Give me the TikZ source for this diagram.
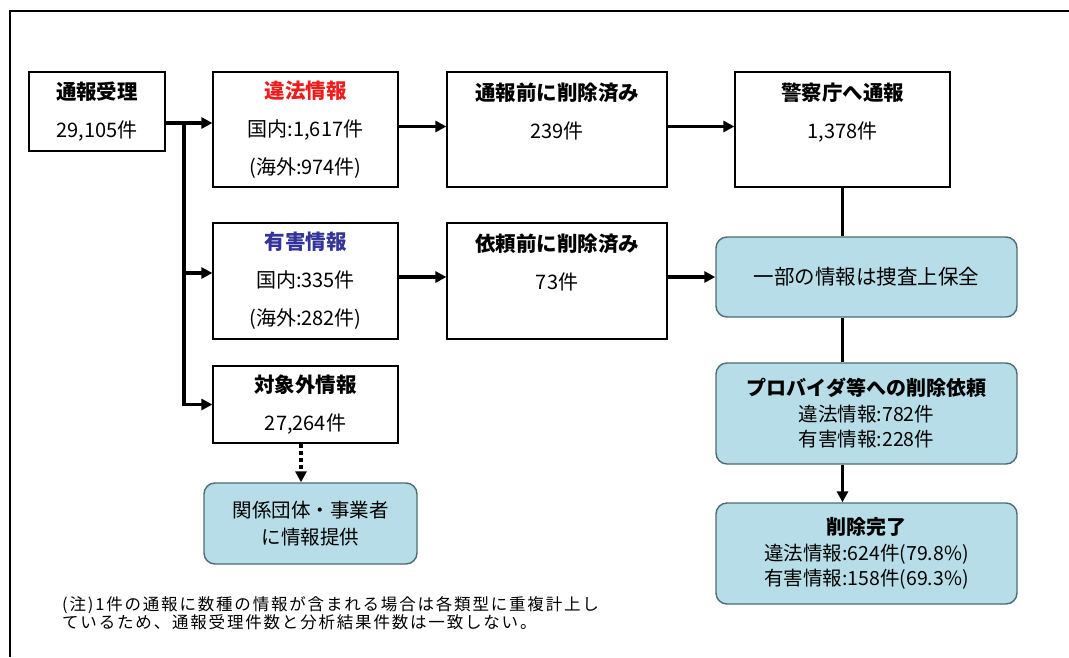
\documentclass[tikz,border=0pt]{standalone}
\usepackage{fontspec}
\setmainfont{Noto Sans CJK JP}
\usepackage{tikz}
\usetikzlibrary{arrows.meta}
\definecolor{aqua}{HTML}{B7DEE8}
\definecolor{aquaedge}{HTML}{4D6B70}
\definecolor{illred}{HTML}{EE1C1C}
\definecolor{harmblue}{HTML}{33339A}
\newcommand{\boxtitle}[1]{{\fontsize{20.5}{38}\selectfont\bfseries #1}}

\begin{document}
\begin{tikzpicture}[x=1pt, y=-1pt,
  plain/.style={draw, line width=1.2pt, align=center, inner sep=0pt,
    minimum width=185pt, minimum height=115pt, font=\fontsize{20}{38}\selectfont},
  aquabox/.style={draw=aquaedge, fill=aqua, line width=1.4pt, rounded corners=11pt,
    align=center, inner sep=0pt, minimum width=301pt, minimum height=101pt,
    font=\fontsize{19.5}{25.5}\selectfont},
  arr/.style={line width=3.2pt, -{Triangle[length=11pt,width=11pt]}},
  link/.style={line width=3.2pt}]
  \useasboundingbox (0,0) rectangle (1069,657);
  \draw[line width=2.2pt] (1069,11) -| (10,657);

  % top row
  \node[plain, line width=2.2pt, minimum width=136pt, minimum height=79pt] (recv) at (97,111.5)
    {\boxtitle{通報受理}\\29,105件};
  \node[plain] (illegal) at (305.5,129.5)
    {\boxtitle{\color{illred}違法情報}\\国内:1,617件\\(海外:974件)};
  \node[plain, minimum width=220pt] (delA) at (557,129.5)
    {\boxtitle{通報前に削除済み}\\239件\\\mbox{}};
  \node[plain, minimum width=215pt] (police) at (842.5,129.5)
    {\boxtitle{警察庁へ通報}\\1,378件\\\mbox{}};

  % middle row
  \node[plain, minimum height=116pt] (harmful) at (305.5,281)
    {\boxtitle{\color{harmblue}有害情報}\\国内:335件\\(海外:282件)};
  \node[plain, minimum width=220pt, minimum height=116pt] (delB) at (557,281)
    {\boxtitle{依頼前に削除済み}\\73件\\\mbox{}};
  \node[aquabox, minimum height=80pt, font=\fontsize{20.5}{26}\selectfont] (keep) at (866.5,277)
    {一部の情報は捜査上保全};

  % lower part
  \node[plain, minimum height=77pt] (other) at (305.5,404.5)
    {\boxtitle{対象外情報}\\27,264件};
  \node[aquabox, minimum width=213pt, minimum height=81pt, font=\fontsize{19.5}{27}\selectfont] (provide) at (310.5,523.5)
    {関係団体・事業者\\に情報提供};
  \node[aquabox] (request) at (866.5,413.5)
    {{\fontsize{20}{25.5}\selectfont\bfseries プロバイダ等への削除依頼}\\違法情報:782件\\有害情報:228件};
  \node[aquabox] (done) at (866.5,553.5)
    {{\fontsize{20}{25.5}\selectfont\bfseries 削除完了}\\違法情報:624件(79.8\%)\\有害情報:158件(69.3\%)};

  \node[align=left, anchor=west, inner sep=0pt, font=\fontsize{16.5}{18}\selectfont\addfontfeature{LetterSpace=11}] (note) at (62,613.5)
    {(注)1件の通報に数種の情報が含まれる場合は各類型に重複計上し\\ているため、通報受理件数と分析結果件数は一致しない。};

  % connectors
  \coordinate (fork) at (184,123);
  \draw[link] (recv.east |- fork) -- (fork);
  \draw[arr] (fork) -- (fork -| illegal.west);
  \draw[arr] ([yshift=1.6pt]fork) |- (other.west);
  \draw[arr] (fork |- harmful.west) ++(0,-8) -- ([yshift=8pt]harmful.west);
  \draw[arr] ([yshift=3pt]illegal.east) -- ([yshift=3pt]delA.west);
  \draw[arr] ([yshift=3pt]delA.east) -- ([yshift=3pt]police.west);
  \draw[arr] ([yshift=4pt]harmful.east) -- ([yshift=4pt]delB.west);
  \draw[arr] (delB.east |- keep.west) -- (keep.west);
  \draw[link] (police.south) -- (police.south |- keep.north);
  \draw[link] (police.south |- keep.south) -- (police.south |- request.north);
  \draw[arr] (police.south |- request.south) -- (police.south |- done.north);
  \draw[line width=3.2pt, dash pattern=on 4pt off 3pt, -{Triangle[length=11pt,width=11pt]}] (other.south -| 301,0) -- (provide.north -| 301,0);
\end{tikzpicture}
\end{document}
